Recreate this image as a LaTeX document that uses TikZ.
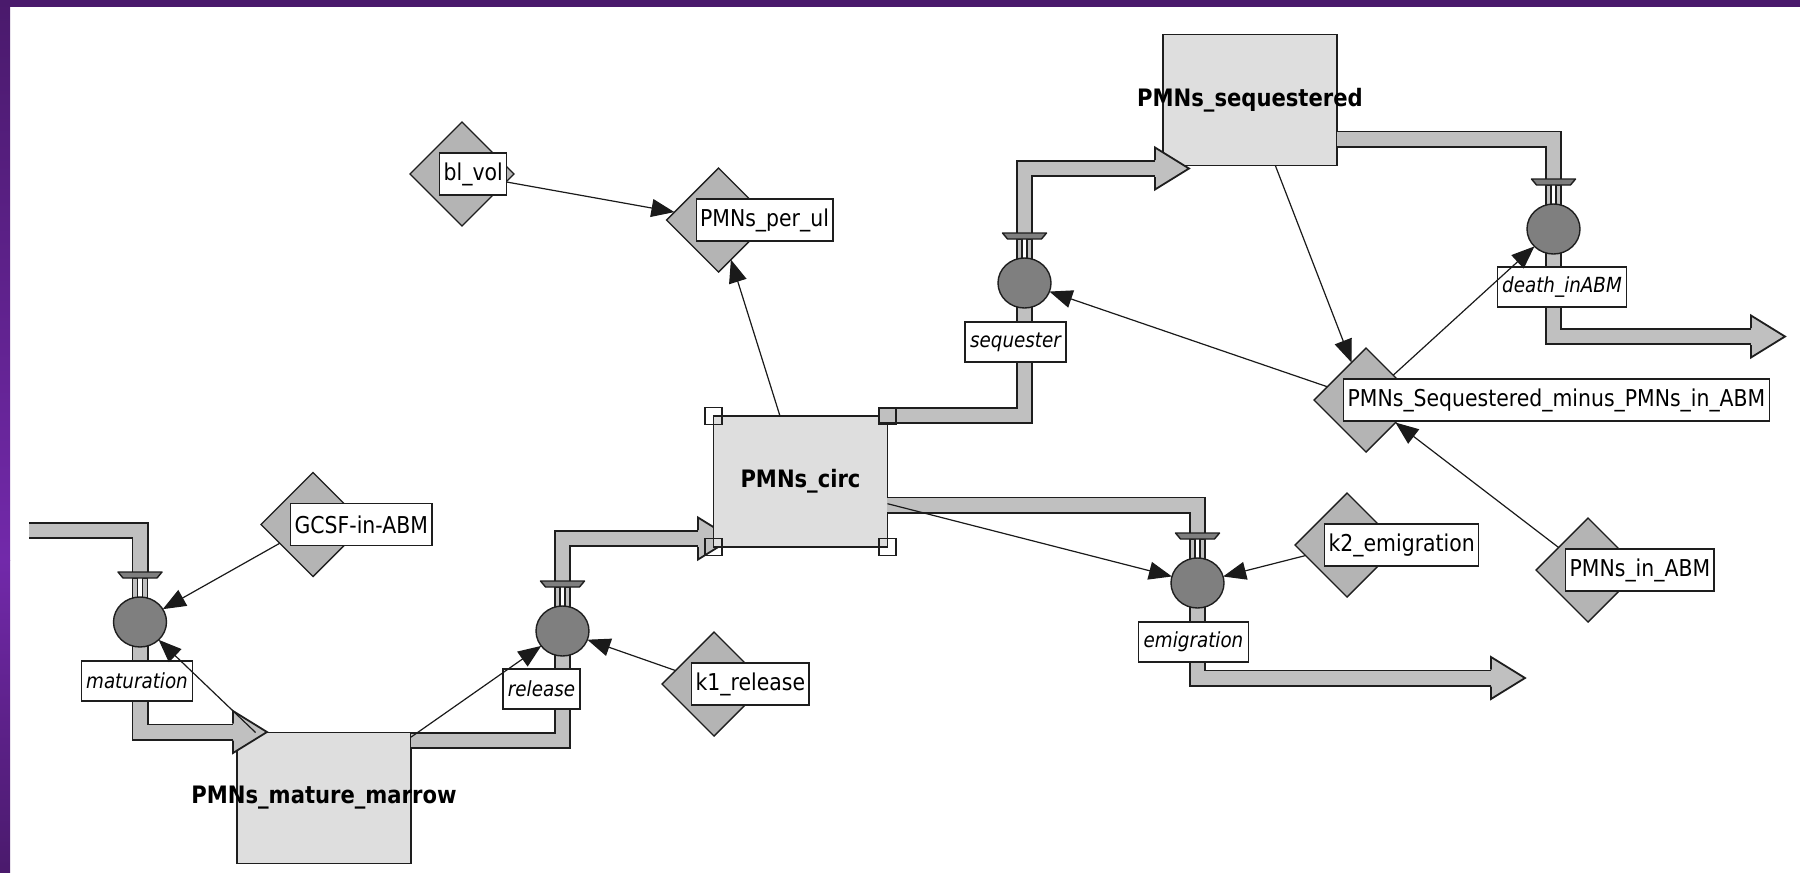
\documentclass[tikz,border=0pt]{standalone}
\usepackage{fontspec}
\setmainfont{DejaVu Sans}[FakeStretch=0.88]
\usetikzlibrary{shapes.geometric,arrows.meta,calc}
\definecolor{linec}{HTML}{1E1E1E}
\definecolor{infoc}{HTML}{1A1A1A}
\definecolor{stockfill}{HTML}{DEDEDE}
\definecolor{auxfill}{HTML}{B4B4B4}
\definecolor{valvefill}{HTML}{7F7F7F}
\definecolor{pipefill}{HTML}{C0C0C0}
\definecolor{frametop}{HTML}{4A1A6C}
\definecolor{framemid}{HTML}{7229AA}
\newcommand\labfont{\fontsize{11.6pt}{13pt}\selectfont}
\newcommand\flowfont{\fontsize{10.4pt}{12pt}\selectfont\itshape}
\newcommand\stockfont{\fontsize{12pt}{14pt}\selectfont\bfseries}
\tikzset{
  stock/.style={draw=linec, fill=stockfill, line width=0.75pt, minimum width=87pt, minimum height=65.5pt, inner sep=0pt, outer sep=0pt},
  stocklab/.style={font=\stockfont, inner sep=0pt},
  aux/.style={diamond, aspect=1, draw=linec, fill=auxfill, line width=0.7pt, minimum width=52pt, minimum height=52pt, inner sep=0pt, outer sep=0pt},
  valve/.style={ellipse, draw=linec, fill=valvefill, line width=0.7pt, minimum width=26.5pt, minimum height=25pt, inner sep=0pt, outer sep=0pt},
  lab/.style={draw=linec, fill=white, line width=0.65pt, inner xsep=2pt, inner ysep=0pt, minimum height=21pt, anchor=west, font=\labfont},
  flab/.style={draw=linec, fill=white, line width=0.65pt, inner xsep=2.5pt, inner ysep=0pt, minimum height=20pt, font=\flowfont},
  pipe/.style={draw=linec, line width=0.9pt, double=pipefill, double distance=6.7pt, line join=miter},
  info/.style={draw=infoc, line width=0.6pt, -{Triangle[length=11.5pt,width=9pt]}},
  handle/.style={draw=linec, line width=0.65pt, minimum size=8.5pt, inner sep=0pt, outer sep=0pt},
}
\newcommand\pipehead[1]{%
  \begin{scope}[shift={(#1)}]
    \fill[pipefill] (0,-21) -- (34,0) -- (0,21) -- cycle;
    \draw[linec, line width=0.9pt, line join=miter] (0,-8.5) -- (0,-21) -- (34,0) -- (0,21) -- (0,8.5);
  \end{scope}}
\newcommand\valvecap[1]{%
  \begin{scope}[shift={(#1)}]
    \filldraw[fill=pipefill, draw=linec, line width=0.55pt] (-7.5,-44) rectangle (-2.5,-23);
    \filldraw[fill=pipefill, draw=linec, line width=0.55pt] (2.5,-44) rectangle (7.5,-23);
    \filldraw[fill=valvefill, draw=linec, line width=0.7pt, line join=round] (-22,-50) -- (22,-50) -- (17,-44) -- (-17,-44) -- cycle;
  \end{scope}}
\begin{document}
\begin{tikzpicture}[x=0.5pt,y=-0.5pt]
\useasboundingbox (0,0) rectangle (1800,873);
\fill[white] (0,0) rectangle (1800,873);
% frame
\shade[top color=frametop, bottom color=framemid] (0,0) rectangle (10,560);
\shade[top color=framemid, bottom color=frametop] (0,560) rectangle (10,873);
\fill[frametop] (0,0) rectangle (1800,7);

% valve centres
\coordinate (matC) at (140,622);
\coordinate (relC) at (562.5,631);
\coordinate (seqC) at (1024.5,283);
\coordinate (emiC) at (1197.5,583);
\coordinate (dthC) at (1553.5,229);

% stocks drawn below pipes
\node[stock] (marrow) at (324,798) {};
\node[stock] (seqst) at (1250,100) {};

% release pipe (under PMNs_circ)
\coordinate (relS) at (411,740.5);
\draw[pipe] (relS) -| (relC);
\coordinate (relA) at (698,538.5);
\draw[pipe] ($(relC)+(0,-50)$) |- (relA);
\pipehead{relA}

\node[stock] (circ) at (800.5,481.5) {};

% maturation pipe
\coordinate (srcM) at (29,530.5);
\draw[pipe] (srcM) -| ($(matC)+(0,-50)$);
\coordinate (matA) at (233,732);
\draw[pipe] (matC) |- (matA);
\pipehead{matA}

% sequester pipe
\coordinate (seqS) at (879,415.5);
\draw[pipe] (seqS) -| (seqC);
\coordinate (seqA) at (1155,168.5);
\draw[pipe] ($(seqC)+(0,-50)$) |- (seqA);
\pipehead{seqA}

% emigration pipe
\coordinate (emiS) at (887,505);
\draw[pipe] (emiS) -| ($(emiC)+(0,-50)$);
\coordinate (emiA) at (1491,678);
\draw[pipe] (emiC) |- (emiA);
\pipehead{emiA}

% death pipe
\coordinate (dthS) at (1337,139);
\draw[pipe] (dthS) -| ($(dthC)+(0,-50)$);
\coordinate (dthA) at (1751,336.5);
\draw[pipe] (dthC) |- (dthA);
\pipehead{dthA}

% handles of PMNs_circ
\node[handle] at (circ.north west) {};
\node[handle] at (circ.north east) {};
\node[handle] at (circ.south west) {};
\node[handle] at (circ.south east) {};

% stock labels
\node[stocklab] at (marrow) {PMNs\_mature\_marrow};
\node[stocklab] at (seqst) {PMNs\_sequestered};
\node[stocklab] at (circ) {PMNs\_circ};

% valves
\valvecap{matC}
\valvecap{relC}
\valvecap{seqC}
\valvecap{emiC}
\valvecap{dthC}
\node[valve] (matV) at (matC) {};
\node[valve] (relV) at (relC) {};
\node[valve] (seqV) at (seqC) {};
\node[valve] (emiV) at (emiC) {};
\node[valve] (dthV) at (dthC) {};

% flow labels
\node[flab] (matL) at (137,681) {maturation};
\node[flab] (relL) at (541.5,689) {release};
\node[flab] (seqL) at (1015.5,342) {sequester};
\node[flab] (emiL) at (1193.5,642) {emigration};
\node[flab] (dthL) at (1562,287) {death\_inABM};

% auxiliaries
\node[aux] (blvol) at (462,174) {};
\node[aux] (perul) at (718.5,220) {};
\node[aux] (gcsf) at (313,524.5) {};
\node[aux] (k1) at (714,684) {};
\node[aux] (k2) at (1347,545) {};
\node[aux] (inabm) at (1588,570) {};
\node[aux] (seqminus) at (1366,400) {};

% information links
\draw[info] (gcsf) -- (matV);
\draw[info] (marrow) -- (matV);
\draw[info] (marrow) -- (relV);
\draw[info] (k1) -- (relV);
\draw[info] (blvol) -- (perul);
\draw[info] (circ) -- (perul);
\draw[info] (circ) -- (emiV);
\draw[info] (k2) -- (emiV);
\draw[info] (seqminus) -- (seqV);
\draw[info] (seqminus) -- (dthV);
\draw[info] (seqst) -- (seqminus);
\draw[info] (inabm) -- (seqminus);

% auxiliary labels
\node[lab] (blvolL) at ([xshift=-11.5pt]blvol.center) {bl\_vol};
\node[lab] (perulL) at ([xshift=-11.5pt]perul.center) {PMNs\_per\_ul};
\node[lab] (gcsfL) at ([xshift=-11.5pt]gcsf.center) {GCSF-in-ABM};
\node[lab] (k1L) at ([xshift=-11.5pt]k1.center) {k1\_release};
\node[lab] (k2L) at ([xshift=-11.5pt]k2.center) {k2\_emigration};
\node[lab] (inabmL) at ([xshift=-11.5pt]inabm.center) {PMNs\_in\_ABM};
\node[lab] (seqminusL) at ([xshift=-11.5pt]seqminus.center) {PMNs\_Sequestered\_minus\_PMNs\_in\_ABM};
\end{tikzpicture}
\end{document}
